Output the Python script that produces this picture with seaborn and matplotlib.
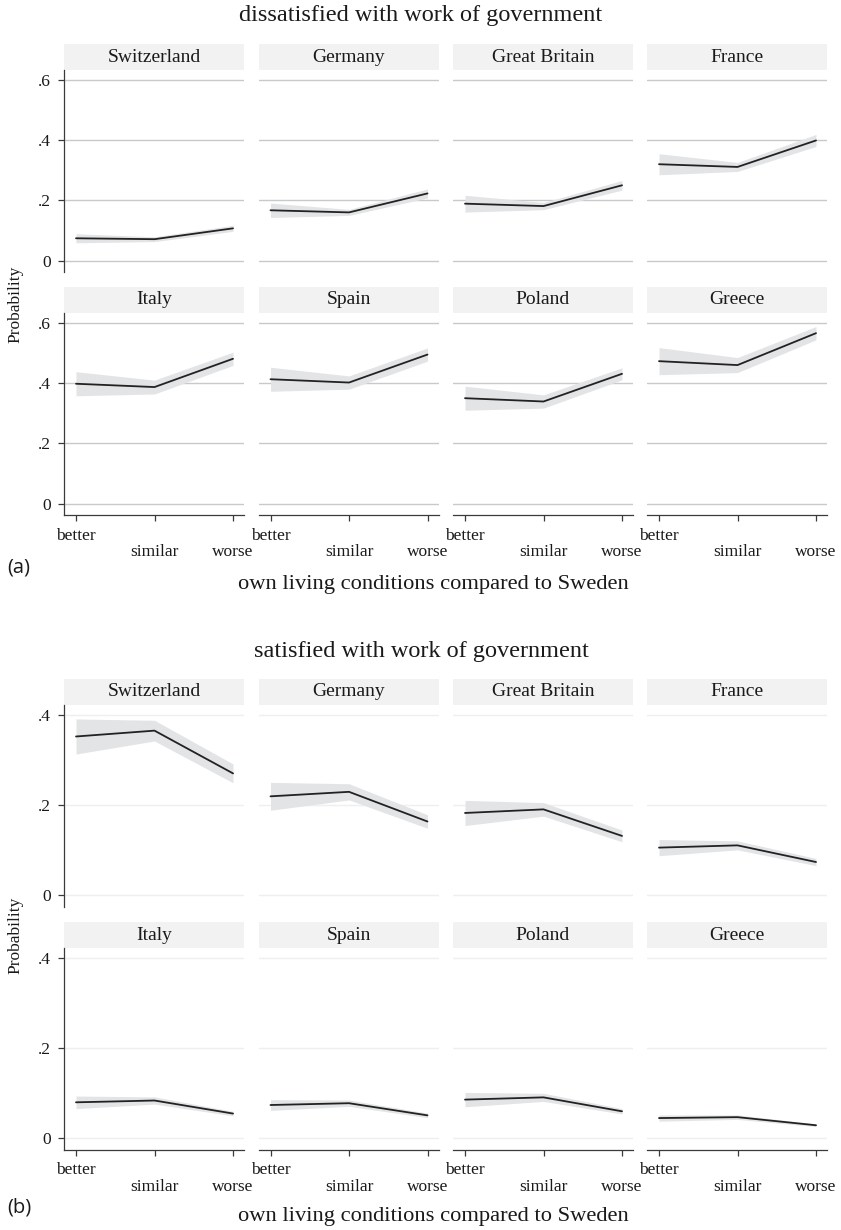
import numpy as np
import pandas as pd
import matplotlib
matplotlib.use("Agg")
import matplotlib.pyplot as plt
import seaborn as sns

# ---- data -------------------------------------------------------------
countries = ["Switzerland", "Germany", "Great Britain", "France",
             "Italy", "Spain", "Poland", "Greece"]
levels = ["better", "similar", "worse"]

# predicted probability: dissatisfied with work of government
dis_est = [[0.074, 0.071, 0.107], [0.167, 0.160, 0.223],
           [0.189, 0.181, 0.250], [0.320, 0.311, 0.399],
           [0.398, 0.387, 0.481], [0.413, 0.402, 0.495],
           [0.350, 0.339, 0.431], [0.473, 0.460, 0.566]]
dis_ci = [[0.015, 0.008, 0.010], [0.024, 0.010, 0.015],
          [0.028, 0.012, 0.016], [0.035, 0.015, 0.020],
          [0.040, 0.023, 0.022], [0.040, 0.022, 0.022],
          [0.040, 0.022, 0.020], [0.045, 0.025, 0.022]]

# predicted probability: satisfied with work of government
sat_est = [[0.352, 0.365, 0.270], [0.219, 0.229, 0.163],
           [0.182, 0.190, 0.131], [0.105, 0.110, 0.073],
           [0.079, 0.083, 0.054], [0.073, 0.077, 0.050],
           [0.085, 0.090, 0.059], [0.044, 0.046, 0.028]]
sat_ci = [[0.039, 0.023, 0.021], [0.031, 0.018, 0.015],
          [0.028, 0.015, 0.013], [0.018, 0.010, 0.008],
          [0.014, 0.008, 0.005], [0.012, 0.007, 0.005],
          [0.016, 0.009, 0.006], [0.007, 0.005, 0.003]]

dis_yticks = [0, 0.2, 0.4, 0.6]
sat_yticks = [0, 0.2, 0.4]
ytick_labels = {0: "0", 0.2: ".2", 0.4: ".4", 0.6: ".6"}


def long_frame(est, ci):
    rows = []
    for c, e_row, ci_row in zip(countries, est, ci):
        for i, (lev, e, h) in enumerate(zip(levels, e_row, ci_row)):
            rows.append(dict(country=c, level=lev, pos=i, est=e,
                             lo=e - h, hi=e + h))
    return pd.DataFrame(rows)


dis_df = long_frame(dis_est, dis_ci)
sat_df = long_frame(sat_est, sat_ci)

# ---- style ------------------------------------------------------------
sns.set_theme(style="white")
plt.rcParams["font.family"] = ["Liberation Serif", "DejaVu Serif"]
plt.rcParams["axes.linewidth"] = 0.9

W, H = 841, 1230
fig = plt.figure(figsize=(W / 100, H / 100), dpi=100)
fig.patch.set_facecolor("white")

col_left = [64, 258.5, 453, 647]
panel_w = 180
strip_h = 26
LINE = "#222222"
BAND = "#e3e4e6"
AXC = "#3a3a3a"
TXT = "#1a1a1a"


def px_axes(x0, top, w, h):
    return fig.add_axes([x0 / W, 1 - (top + h) / H, w / W, h / H])


def draw_block(df, yticks, ylim, row_tops, grid_color, title, title_y,
               xlab_y, tag, tag_y, ylab_y):
    fig.text(421 / W, 1 - title_y / H, title, ha="center", va="center",
             fontsize=17.5, color=TXT)
    panel_h = 202
    for k, c in enumerate(countries):
        r, col = divmod(k, 4)
        top = row_tops[r]
        x0 = col_left[col]
        # strip header
        sax = px_axes(x0, top - strip_h, panel_w, strip_h)
        sax.set_facecolor("#f2f2f2")
        sax.set_xticks([])
        sax.set_yticks([])
        for s in sax.spines.values():
            s.set_visible(False)
        sax.text(0.5, 0.5, c, ha="center", va="center", fontsize=14,
                 color=TXT, transform=sax.transAxes)

        ax = px_axes(x0, top, panel_w, panel_h)
        sub = df[df.country == c]
        ax.fill_between(sub["pos"], sub["lo"], sub["hi"], color=BAND,
                        lw=0, zorder=2)
        sns.lineplot(data=sub, x="pos", y="est", color=LINE, lw=1.3,
                     errorbar=None, ax=ax, zorder=3)
        ax.set_xlim(-0.153, 2.14)
        ax.set_ylim(*ylim)
        ax.set_yticks(yticks)
        ax.grid(axis="y", color=grid_color, lw=1.0, zorder=1)
        ax.grid(axis="x", visible=False)
        ax.set_xlabel("")
        ax.set_ylabel("")
        for s in ["top", "right"]:
            ax.spines[s].set_visible(False)
        ax.spines["left"].set_color(AXC)
        ax.spines["bottom"].set_color(AXC)
        if col == 0:
            ax.set_yticklabels([ytick_labels[t] for t in yticks],
                               fontsize=12.5, color=TXT)
            ax.tick_params(axis="y", left=True, length=4.5, width=0.9,
                           color=AXC, pad=5)
        else:
            ax.spines["left"].set_visible(False)
            ax.tick_params(axis="y", left=False, labelleft=False)
        if r == 1:
            ax.set_xticks([0, 1, 2])
            ax.set_xticklabels(["better", "\nsimilar", "\nworse"],
                               fontsize=12.5, color=TXT,
                               linespacing=1.05)
            ax.tick_params(axis="x", bottom=True, length=4.5, width=0.9,
                           color=AXC, pad=4.5)
        else:
            ax.spines["bottom"].set_visible(False)
            ax.set_xticks([])
    fig.text(433 / W, 1 - xlab_y / H, "own living conditions compared to Sweden",
             ha="center", va="center", fontsize=16.2, color=TXT)
    fig.text(7 / W, 1 - tag_y / H, tag, ha="left", va="center",
             fontsize=14.5, color=TXT, family=["Open Sans", "DejaVu Sans"])
    fig.text(15 / W, 1 - ylab_y / H, "Probability", rotation=90,
             ha="center", va="center", fontsize=12.5, color=TXT)


draw_block(dis_df, dis_yticks, (-0.038, 0.633), [70, 313], "#c9c9c9",
           "dissatisfied with work of government", 15, 585, "(a)", 568, 304)
draw_block(sat_df, sat_yticks, (-0.027, 0.422), [705, 948], "#efefef",
           "satisfied with work of government", 652, 1216, "(b)", 1208, 935)

fig.savefig("out.png", dpi=100, facecolor="white")
